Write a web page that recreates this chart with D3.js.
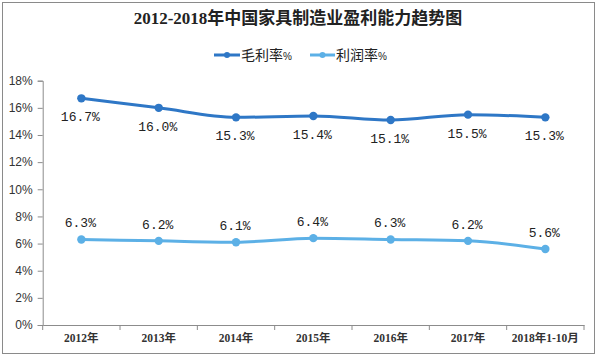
<!DOCTYPE html>
<html><head><meta charset="utf-8">
<script src="https://cdn.jsdelivr.net/npm/d3@7"></script>
<style>body{margin:0;background:#fff}svg{display:block}</style>
</head><body>
<svg id="c" width="600" height="356"></svg>
<script>
const categories = ["2012年","2013年","2014年","2015年","2016年","2017年","2018年1-10月"];
const grossMargin = [16.7,16.0,15.3,15.4,15.1,15.5,15.3];
const profitMargin = [6.3,6.2,6.1,6.4,6.3,6.2,5.6];
const yTicks = [0,2,4,6,8,10,12,14,16,18];
const seriesNames = ["毛利率","利润率"];
const title = "2012-2018年中国家具制造业盈利能力趋势图";

const svg = d3.select("#c");
const colors = ["#2e77c6","#5cb0e6"];
const L = 42.7, R = 584, T = 80.7, B = 325;

svg.append("rect").attr("x",2.5).attr("y",2.5).attr("width",592).attr("height",351)
  .attr("fill","#fff").attr("stroke","#8a8a8a");

const x = d3.scaleBand().domain(categories).range([L,R]);
const y = d3.scaleLinear().domain([0,18]).range([B,T]);

// title
svg.append("text").attr("x",298).attr("y",24).attr("text-anchor","middle")
  .attr("font-family","'Liberation Serif','Noto Sans CJK SC',serif").attr("font-weight","bold")
  .attr("font-size",17).attr("fill","#222").text(title);

// y axis
const ya = svg.append("g").attr("transform",`translate(${L},0)`)
  .call(d3.axisLeft(y).tickValues(yTicks).tickFormat(d=>d+"%").tickSize(5).tickPadding(5));
ya.select(".domain").attr("stroke","#8c8c8c");
ya.selectAll(".tick line").attr("stroke","#8c8c8c");
ya.selectAll("text").attr("font-family","'Liberation Sans Narrow','Liberation Sans',sans-serif")
  .attr("font-size",12).attr("fill","#333");

// x axis
const xa = svg.append("g").attr("transform",`translate(0,${B})`)
  .call(d3.axisBottom(x).tickSize(0).tickPadding(9));
xa.select(".domain").attr("stroke","#8c8c8c");
xa.selectAll("text").attr("font-family","'Liberation Serif','Noto Sans CJK SC',serif")
  .attr("font-size",11.5).attr("font-weight","bold").attr("fill","#333");
// boundary ticks
const bounds = categories.map(c=>x(c)).concat([R]);
svg.append("g").selectAll("line").data(bounds).join("line")
  .attr("x1",d=>d).attr("x2",d=>d).attr("y1",B).attr("y2",B+5).attr("stroke","#8c8c8c");

// lines
const series = [grossMargin, profitMargin];
const line = d3.line().x((d,i)=>x(categories[i])+x.bandwidth()/2).y(d=>y(d)).curve(d3.curveMonotoneX);
series.forEach((s,k)=>{
  svg.append("path").datum(s).attr("d",line).attr("fill","none")
    .attr("stroke",colors[k]).attr("stroke-width",3);
  svg.append("g").selectAll("circle").data(s).join("circle")
    .attr("cx",(d,i)=>x(categories[i])+x.bandwidth()/2).attr("cy",d=>y(d)).attr("r",4.2)
    .attr("fill",colors[k]);
  svg.append("g").selectAll("text").data(s).join("text")
    .attr("x",(d,i)=>x(categories[i])+x.bandwidth()/2 - 1)
    .attr("y",d=>k===0 ? y(d)+23 : y(d)-12)
    .attr("text-anchor","middle")
    .attr("font-family","'Liberation Mono',monospace").attr("font-size",13).attr("fill","#222")
    .text(d=>d.toFixed(1)+"%");
});

// legend
const leg = [{x1:214,x2:240,tx:241},{x1:310,x2:335,tx:336}];
leg.forEach((l,k)=>{
  svg.append("line").attr("x1",l.x1).attr("x2",l.x2).attr("y1",55).attr("y2",55)
    .attr("stroke",colors[k]).attr("stroke-width",3);
  svg.append("circle").attr("cx",(l.x1+l.x2)/2).attr("cy",55).attr("r",3).attr("fill",colors[k]);
  const t = svg.append("text").attr("x",l.tx).attr("y",60).attr("font-family","'Noto Sans CJK SC',sans-serif")
    .attr("font-size",14).attr("fill","#222").text(seriesNames[k]);
  t.append("tspan").attr("font-size",10).attr("font-family","'Liberation Sans',sans-serif").text("%");
});
</script>
</body></html>
